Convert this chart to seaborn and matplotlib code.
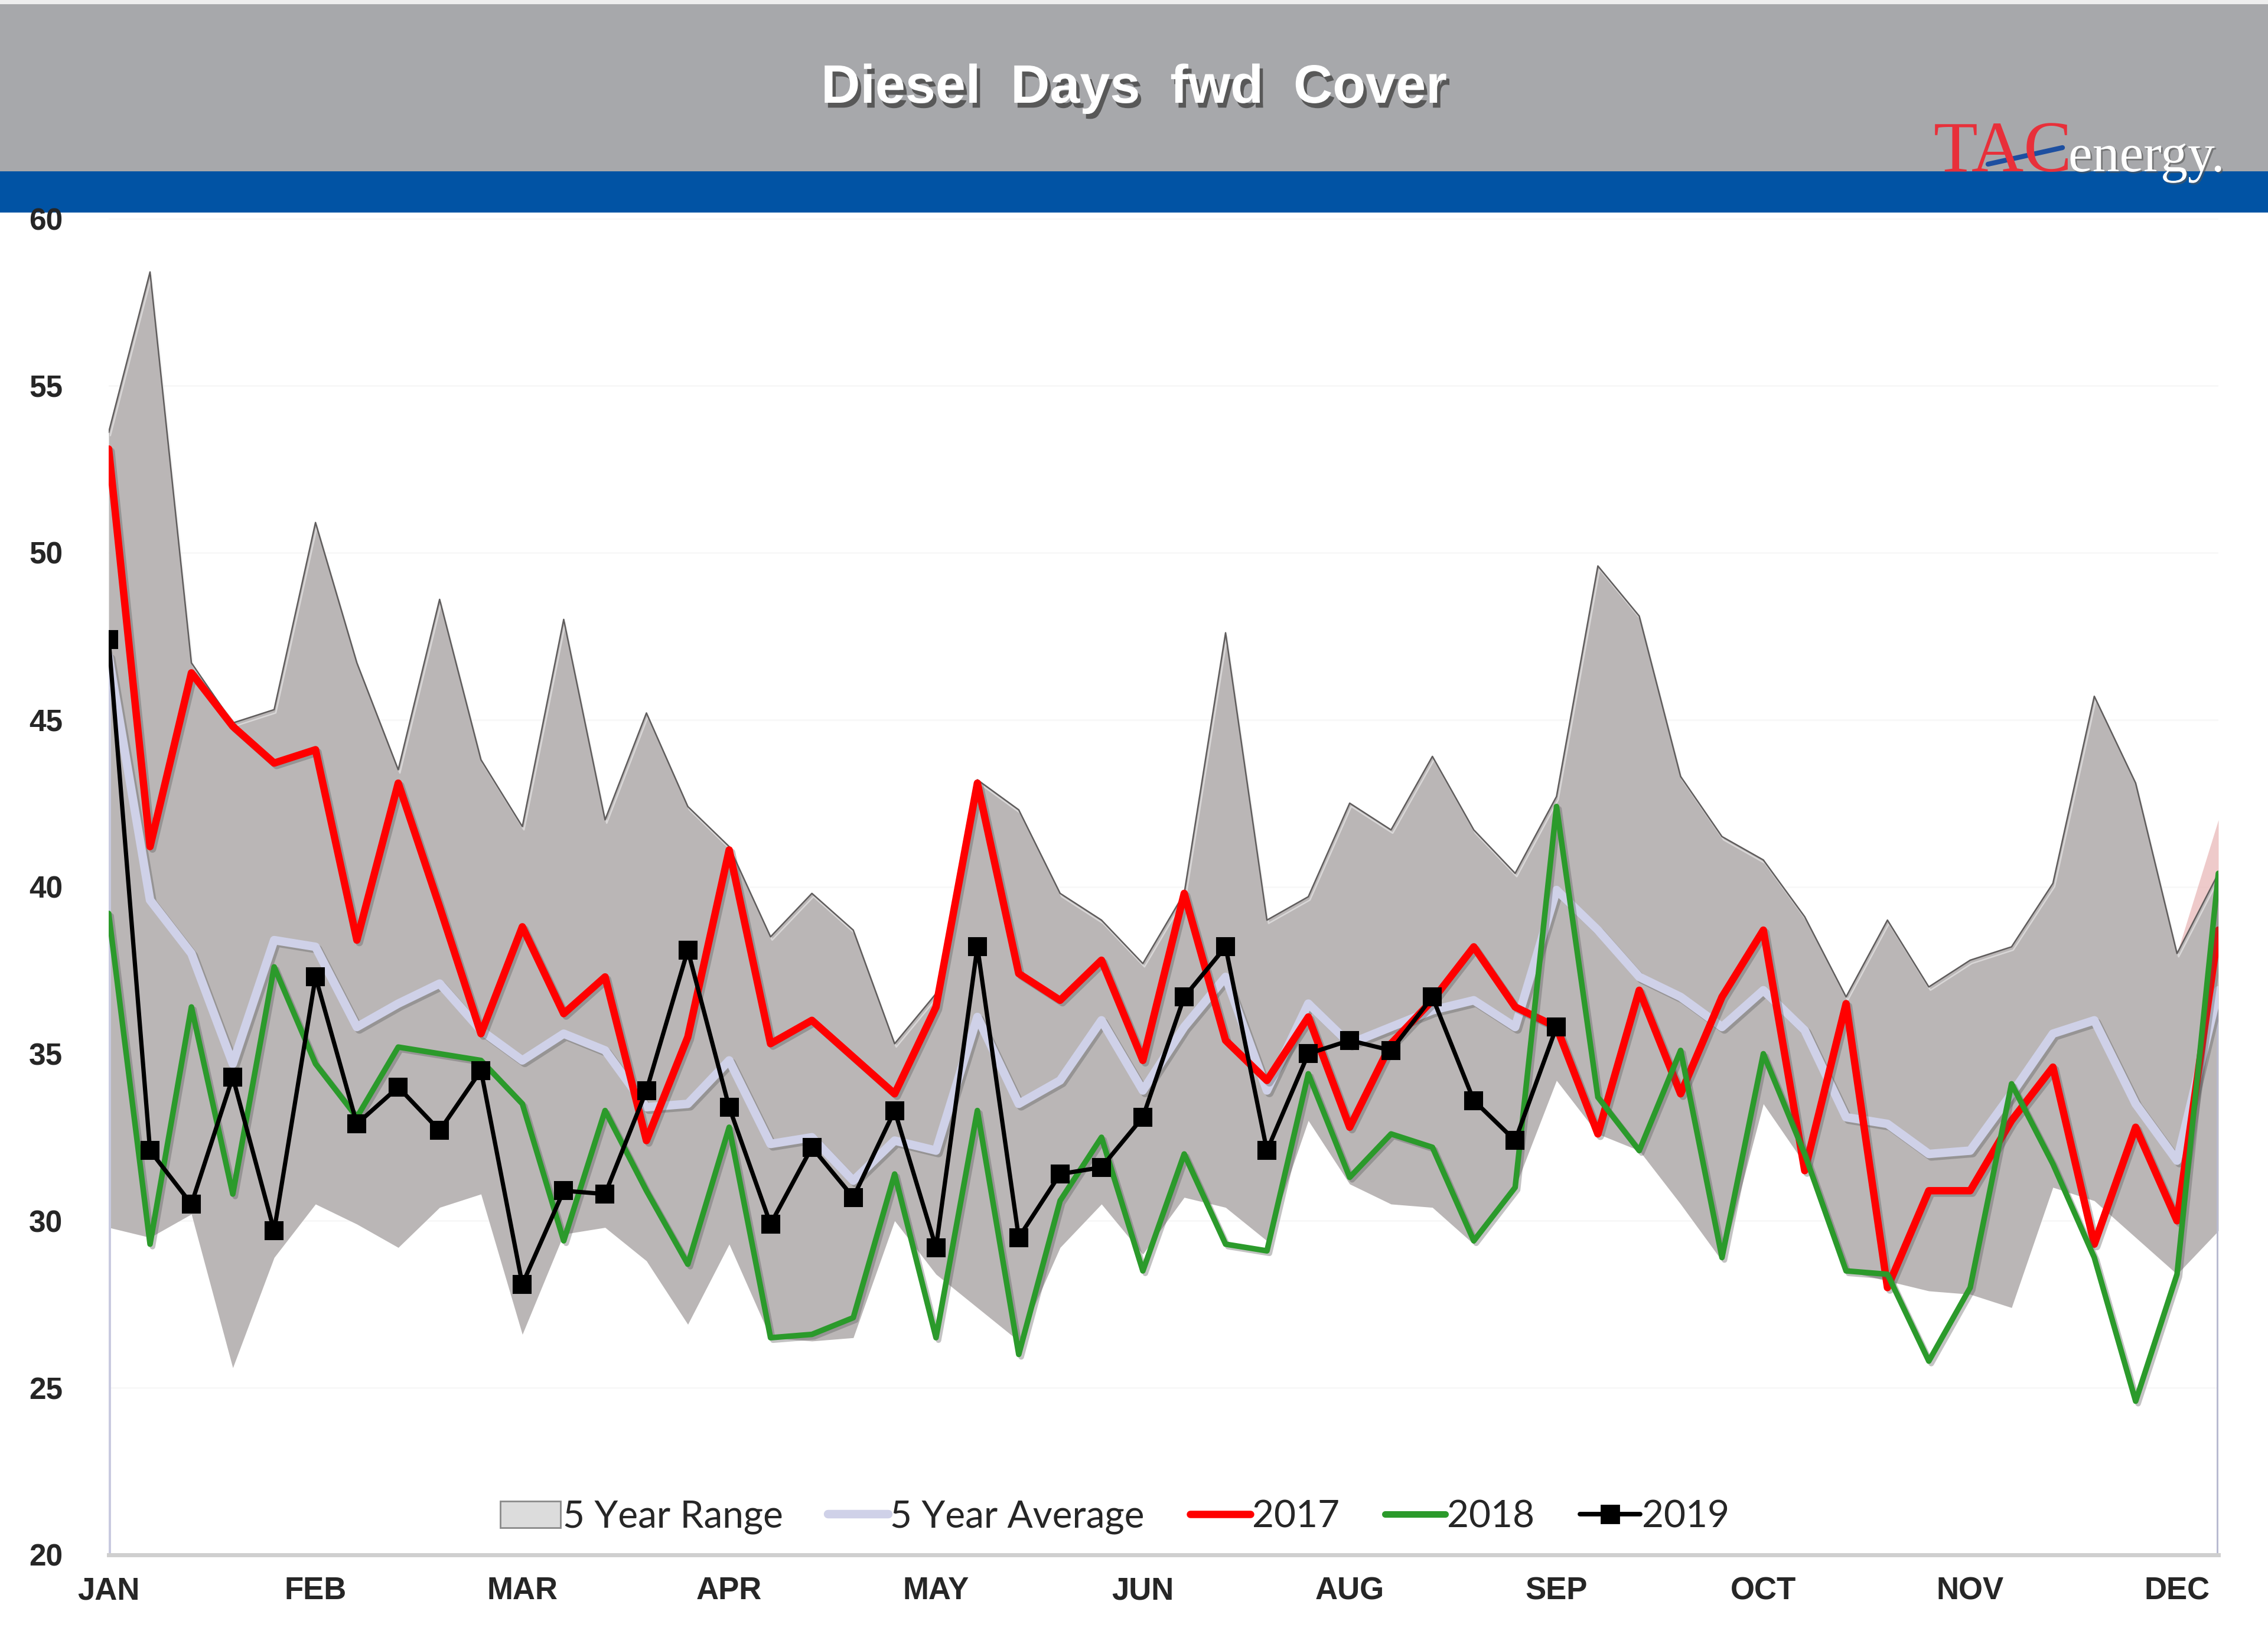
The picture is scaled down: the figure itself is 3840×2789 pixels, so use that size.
import numpy as np
import pandas as pd
import matplotlib
matplotlib.use('Agg')
import matplotlib.pyplot as plt
import matplotlib.patheffects as pe
from matplotlib.lines import Line2D
from matplotlib.patches import Patch, Rectangle
import seaborn as sns

## data: weekly diesel days of forward cover (52 weeks)
weeks = list(range(52))
month_ticks = [0, 5, 10, 15, 20, 25, 30, 35, 40, 45, 50]
month_labels = ['JAN', 'FEB', 'MAR', 'APR', 'MAY', 'JUN', 'AUG', 'SEP', 'OCT', 'NOV', 'DEC']

range_hi = [53.6, 58.4, 46.7, 44.9, 45.3, 50.9, 46.7, 43.5, 48.6, 43.8, 41.8, 48.0, 42.0, 45.2, 42.4, 41.2,
            38.5, 39.8, 38.7, 35.3, 36.8, 43.2, 42.3, 39.8, 39.0, 37.7, 39.8, 47.6, 39.0, 39.7, 42.5, 41.7,
            43.9, 41.7, 40.4, 42.7, 49.6, 48.1, 43.3, 41.5, 40.8, 39.1, 36.7, 39.0, 37.0, 37.8, 38.2, 40.1,
            45.7, 43.1, 38.0, 40.4]
range_lo = [29.8, 29.5, 30.2, 25.6, 28.9, 30.5, 29.9, 29.2, 30.4, 30.8, 26.6, 29.6, 29.8, 28.8, 26.9, 29.3,
            26.5, 26.4, 26.5, 30.0, 28.4, 27.4, 26.4, 29.2, 30.5, 29.0, 30.7, 30.4, 29.4, 33.0, 31.1, 30.5,
            30.4, 29.3, 31.0, 34.2, 32.6, 32.1, 30.5, 28.8, 33.5, 31.7, 28.5, 28.2, 27.9, 27.8, 27.4, 31.0,
            30.6, 29.5, 28.4, 29.7]
avg5 = [46.9, 39.6, 38.0, 34.7, 38.4, 38.2, 35.8, 36.5, 37.1, 35.7, 34.8, 35.6, 35.1, 33.4, 33.5, 34.8,
        32.3, 32.5, 31.2, 32.4, 32.1, 36.1, 33.5, 34.2, 36.0, 33.9, 35.8, 37.3, 33.9, 36.5, 35.3, 35.8,
        36.3, 36.6, 35.8, 39.9, 38.7, 37.3, 36.7, 35.8, 36.9, 35.7, 33.1, 32.9, 32.0, 32.1, 33.8, 35.6,
        36.0, 33.5, 31.8, 36.9]
y2017 = [53.1, 41.2, 46.4, 44.8, 43.7, 44.1, 38.4, 43.1, 39.4, 35.6, 38.8, 36.2, 37.3, 32.4, 35.5, 41.1,
         35.3, 36.0, 34.9, 33.8, 36.4, 43.1, 37.4, 36.6, 37.8, 34.8, 39.8, 35.4, 34.2, 36.1, 32.8, 35.3,
         36.6, 38.2, 36.4, 35.8, 32.6, 36.9, 33.8, 36.7, 38.7, 31.5, 36.5, 28.0, 30.9, 30.9, 33.0, 34.6,
         29.3, 32.8, 30.0, 38.7]
y2018 = [39.2, 29.3, 36.4, 30.8, 37.6, 34.7, 33.1, 35.2, 35.0, 34.8, 33.5, 29.4, 33.3, 30.9, 28.7, 32.8,
         26.5, 26.6, 27.1, 31.4, 26.5, 33.3, 26.0, 30.6, 32.5, 28.5, 32.0, 29.3, 29.1, 34.4, 31.3, 32.6,
         32.2, 29.4, 31.0, 42.4, 33.7, 32.1, 35.1, 28.9, 35.0, 32.0, 28.5, 28.4, 25.8, 28.0, 34.1, 31.7,
         28.9, 24.6, 28.4, 40.4]
y2019 = [47.4, 32.1, 30.5, 34.3, 29.7, 37.3, 32.9, 34.0, 32.7, 34.5, 28.1, 30.9, 30.8, 33.9, 38.1, 33.4,
         29.9, 32.2, 30.7, 33.3, 29.2, 38.2, 29.5, 31.4, 31.6, 33.1, 36.7, 38.2, 32.1, 35.0, 35.4, 35.1,
         36.7, 33.6, 32.4, 35.8] + [np.nan] * 16
pink_weeks = [50, 51]
pink_top = [38.0, 42.0]

df = pd.DataFrame({'week': weeks, 'hi': range_hi, 'lo': range_lo, 'avg': avg5,
                   'y2017': y2017, 'y2018': y2018, 'y2019': y2019})

sns.set_style('white')
plt.rcParams['font.family'] = ['Liberation Sans', 'DejaVu Sans']

W, H, dpi = 3840, 2789, 200
fig = plt.figure(figsize=(W / dpi, H / dpi), dpi=dpi)
fig.patch.set_facecolor('white')

## header banner
fig.add_artist(Rectangle((0, 1 - 8 / H), 1, 8 / H, transform=fig.transFigure, color='#eeeeee', zorder=0))
fig.add_artist(Rectangle((0, 1 - 291 / H), 1, 283 / H, transform=fig.transFigure, color='#a7a8ab', zorder=0))
fig.add_artist(Rectangle((0, 1 - 358 / H), 1, 67 / H, transform=fig.transFigure, color='#0153a4', zorder=0))

title = fig.text(0.5, 1 - 150 / H, 'Diesel  Days  fwd  Cover', ha='center', va='center', color='white',
                 fontsize=33, fontweight='bold', family=['Liberation Sans', 'DejaVu Sans'])
title.set_path_effects([pe.withSimplePatchShadow(offset=(2, -3), shadow_rgbFace='#444444', alpha=0.8)])

## logo
fig.text(3274 / W, 1 - 290 / H, 'TAC', ha='left', va='baseline', color='#e8303a',
         fontsize=44, family=['Liberation Serif', 'DejaVu Serif'])
logo2 = fig.text(3502 / W, 1 - 290 / H, 'energy.', ha='left', va='baseline', color='white',
                 fontsize=33, family=['Liberation Serif', 'DejaVu Serif'])
logo2.set_path_effects([pe.withSimplePatchShadow(offset=(1, -1), shadow_rgbFace='#555555', alpha=0.6)])
fig.add_artist(Line2D([3366 / W, 3492 / W], [1 - 278 / H, 1 - 250 / H], transform=fig.transFigure,
                      color='#1d4fa0', lw=3, solid_capstyle='round'))

## plot area
ax = fig.add_axes([184 / W, 1 - 2633 / H, (3756 - 184) / W, (2633 - 370) / H])

shadow = [pe.SimpleLineShadow(offset=(1.5, -1.5), shadow_color='#555555', alpha=0.35), pe.Normal()]

ax.fill_between(df['week'], df['lo'], df['hi'], color='#bab6b6', lw=0, zorder=1)
ax.fill_between(pink_weeks, [range_hi[50], range_hi[51]], pink_top, color='#e8b4b4', alpha=0.7, lw=0, zorder=1)
sns.lineplot(data=df, x='week', y='hi', ax=ax, color='#5f5c5c', lw=0.9, zorder=2, legend=False,
             path_effects=[pe.SimpleLineShadow(offset=(1, -2), shadow_color='#eeeeee', alpha=0.6), pe.Normal()])

ax.vlines(weeks[0], 20, avg5[0], color='#c8cae0', lw=2.5, zorder=2)
ax.vlines(weeks[-1], 20, avg5[-1], color='#b8bad0', lw=2.5, zorder=2)

sns.lineplot(data=df, x='week', y='avg', ax=ax, color='#cfd1e8', lw=5.2, zorder=3, legend=False,
             path_effects=shadow)
sns.lineplot(data=df, x='week', y='y2017', ax=ax, color='#ff0000', lw=4.5, zorder=4, legend=False,
             path_effects=shadow)
sns.lineplot(data=df, x='week', y='y2018', ax=ax, color='#2b9a2b', lw=3.4, zorder=5, legend=False,
             path_effects=shadow)
sns.lineplot(data=df, x='week', y='y2019', ax=ax, color='black', lw=2.6, marker='s', markersize=10.5,
             markeredgecolor='black', zorder=6, legend=False)

ax.set_xlim(0, 51)
ax.set_ylim(20, 60)
ax.set_yticks(range(20, 61, 5))
ax.set_xticks(month_ticks)
ax.set_xticklabels(month_labels)
ax.set_xlabel('')
ax.set_ylabel('')
ax.tick_params(axis='y', length=0, pad=28, labelsize=18.5)
ax.tick_params(axis='x', length=0, pad=13, labelsize=19)
for lab in ax.get_xticklabels() + ax.get_yticklabels():
    lab.set_fontweight('bold')
ax.grid(axis='y', color='#f8f8f8', lw=1)
ax.set_axisbelow(True)
for s in ['top', 'right', 'left']:
    ax.spines[s].set_visible(False)
ax.spines['bottom'].set_color('#cfcfcf')
ax.spines['bottom'].set_linewidth(2.5)

## legend
handles = [Patch(facecolor='#dcdcdc', edgecolor='#8a8a8a', lw=1),
           Line2D([], [], color='#cfd1e8', lw=5.2),
           Line2D([], [], color='#ff0000', lw=4.5),
           Line2D([], [], color='#2b9a2b', lw=4.0),
           Line2D([], [], color='black', lw=2.8, marker='s', markersize=10.5)]
labels = ['5 Year Range', '5 Year Average', '2017', '2018', '2019']
leg = ax.legend(handles, labels, loc='lower center', bbox_to_anchor=(0.477, -0.01), ncol=5, frameon=False,
                handlelength=1.6, handletextpad=0.05, columnspacing=1.2,
                prop={'family': ['Lato', 'DejaVu Sans'], 'size': 23})

fig.savefig('out.png', dpi=dpi)
